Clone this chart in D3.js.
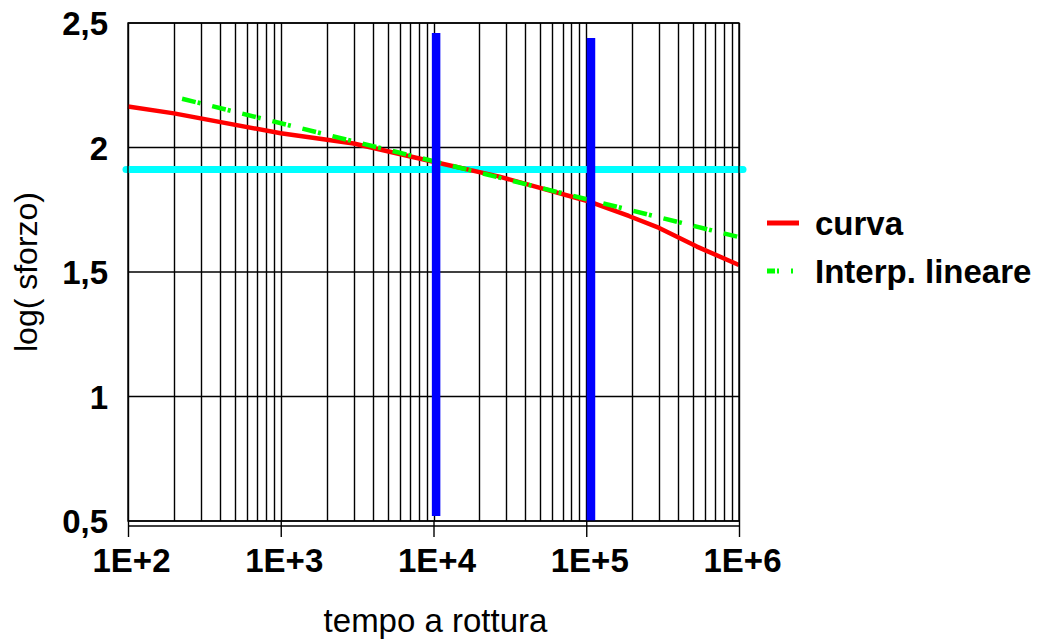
<!DOCTYPE html>
<html>
<head>
<meta charset="utf-8">
<script src="https://cdn.jsdelivr.net/npm/d3@7"></script>
<style>
  html, body { margin: 0; padding: 0; background: #fff; }
  svg { display: block; font-family: "Liberation Sans", Arial, sans-serif; }
</style>
</head>
<body>
<svg id="chart" width="1046" height="639"></svg>
<script>
// tempo a rottura (h) vs log(sforzo)
const xTicks = [1e2, 1e3, 1e4, 1e5, 1e6];
const xTickLabels = ["1E+2", "1E+3", "1E+4", "1E+5", "1E+6"];
const yTicks = [0.5, 1, 1.5, 2, 2.5];
const yTickLabels = ["0,5", "1", "1,5", "2", "2,5"];

const curvaT = [100, 200, 1000, 3000, 10000, 27000, 106000, 190000, 300000, 530000, 1000000];
const curvaLog = [2.165, 2.137, 2.057, 2.016, 1.943, 1.883, 1.782, 1.725, 1.677, 1.602, 1.528];

const interpT = [226, 1000000];
const interpLog = [2.196, 1.64];

// linea orizzontale (sforzo di riferimento)
const sogliaT = [100, 1000000];
const sogliaLog = 1.912;

// linee verticali (tempi letti)
const verticaliT = [10400, 107400];
const verticaliTop = [2.46, 2.44];
const verticaliBottom = [0.52, 0.5];

const legendLabels = ["curva", "Interp. lineare"];

const X0 = 128, X1 = 739, Y0 = 23, Y1 = 521;

const svg = d3.select("#chart");

const x = d3.scaleLog().domain([1e2, 1e6]).range([X0, X1]);
const y = d3.scaleLinear().domain([0.5, 2.5]).range([Y1, Y0]);

// griglia verticale (1..9 per decade)
let minor = [];
for (let d = 2; d < 6; d++) {
  for (let k = 1; k < 10; k++) minor.push(k * Math.pow(10, d));
}
minor.push(1e6);

const grid = svg.append("g").attr("stroke", "#000").attr("stroke-width", 1.4);
grid.selectAll("line.v").data(minor).join("line")
  .attr("class", "v")
  .attr("x1", d => Math.round(x(d)) + 0.5).attr("x2", d => Math.round(x(d)) + 0.5)
  .attr("y1", Y0).attr("y2", Y1);
grid.selectAll("line.h").data(yTicks).join("line")
  .attr("class", "h")
  .attr("x1", X0).attr("x2", X1)
  .attr("y1", d => y(d)).attr("y2", d => y(d));

// asse x
const xAxis = d3.axisBottom(x)
  .tickValues(xTicks)
  .tickFormat((d, i) => xTickLabels[i])
  .tickSizeInner(11).tickSizeOuter(0).tickPadding(12);

const gx = svg.append("g").attr("transform", `translate(0,${Y1 + 5})`).call(xAxis);
gx.select(".domain").attr("stroke", "#000").attr("stroke-width", 1.4).attr("d", `M${X0},0H${X1}`);
gx.selectAll(".tick line").attr("stroke", "#000").attr("stroke-width", 1.4).attr("y1", -5);
gx.selectAll(".tick text")
  .attr("fill", "#000").attr("font-size", 33).attr("font-weight", "bold")
  .attr("font-family", "Liberation Sans, Arial, sans-serif")
  .attr("dx", 3);

// asse y (solo etichette)
const yAxis = d3.axisLeft(y)
  .tickValues(yTicks)
  .tickFormat((d, i) => yTickLabels[i])
  .tickSize(0).tickPadding(20);

const gy = svg.append("g").attr("transform", `translate(${X0},0)`).call(yAxis);
gy.select(".domain").remove();
gy.selectAll(".tick text")
  .attr("fill", "#000").attr("font-size", 33).attr("font-weight", "bold")
  .attr("font-family", "Liberation Sans, Arial, sans-serif")
  .attr("dy", "0.35em");

// linea orizzontale ciano
svg.append("line")
  .attr("x1", x(sogliaT[0]) - 2).attr("x2", x(sogliaT[1]) + 4)
  .attr("y1", y(sogliaLog)).attr("y2", y(sogliaLog))
  .attr("stroke", "#00ffff").attr("stroke-width", 7).attr("stroke-linecap", "round");

// serie
const line = d3.line().x(d => x(d[0])).y(d => y(d[1]));

svg.append("path")
  .datum(curvaT.map((t, i) => [t, curvaLog[i]]))
  .attr("d", line)
  .attr("fill", "none").attr("stroke", "#ff0000").attr("stroke-width", 4.5)
  .attr("stroke-linejoin", "round");

svg.append("path")
  .datum(interpT.map((t, i) => [t, interpLog[i]]))
  .attr("d", line)
  .attr("fill", "none").attr("stroke", "#00ff00").attr("stroke-width", 4.5)
  .attr("stroke-dasharray", "14,2,3,12");

// linee verticali blu
svg.selectAll("line.blu").data(verticaliT).join("line")
  .attr("class", "blu")
  .attr("x1", d => x(d)).attr("x2", d => x(d))
  .attr("y1", (d, i) => y(verticaliTop[i])).attr("y2", (d, i) => y(verticaliBottom[i]))
  .attr("stroke", "#0000ff").attr("stroke-width", 8.5);

// bordo
svg.append("rect")
  .attr("x", X0).attr("y", Y0).attr("width", X1 - X0).attr("height", Y1 - Y0)
  .attr("fill", "none").attr("stroke", "#000").attr("stroke-width", 1.4);

// titoli assi
svg.append("text")
  .attr("x", (X0 + X1) / 2 + 2).attr("y", 632)
  .attr("text-anchor", "middle").attr("font-size", 33)
  .attr("fill", "#000")
  .text("tempo a rottura");

svg.append("text")
  .attr("transform", "translate(37,272) rotate(-90)")
  .attr("text-anchor", "middle").attr("font-size", 32)
  .attr("fill", "#000")
  .text("log( sforzo)");

// legenda
const legend = svg.append("g");
const legendY = [223, 271];
const legendStyle = [
  { stroke: "#ff0000", dash: null },
  { stroke: "#00ff00", dash: "8,2,2,12,2" }
];
legendLabels.forEach((lab, i) => {
  legend.append("line")
    .attr("x1", 767).attr("x2", 799)
    .attr("y1", legendY[i]).attr("y2", legendY[i])
    .attr("stroke", legendStyle[i].stroke).attr("stroke-width", 5)
    .attr("stroke-dasharray", legendStyle[i].dash);
  legend.append("text")
    .attr("x", 815).attr("y", legendY[i] + 12)
    .attr("font-size", 33).attr("font-weight", "bold")
    .attr("fill", "#000")
    .text(lab);
});
</script>
</body>
</html>
